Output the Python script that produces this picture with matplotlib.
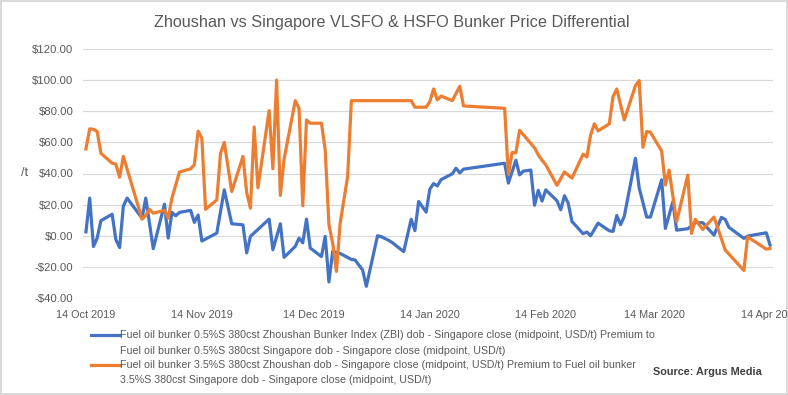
import matplotlib
matplotlib.use("Agg")
import matplotlib.pyplot as plt
import matplotlib.dates as mdates
import matplotlib.ticker as mticker
from matplotlib.lines import Line2D
import pandas as pd

# ---------------- data ----------------
blue_dates = [
    "2019-10-14", "2019-10-15", "2019-10-16", "2019-10-17", "2019-10-18", "2019-10-21", "2019-10-22", "2019-10-23", "2019-10-24", "2019-10-25",
    "2019-10-29", "2019-10-30", "2019-11-01", "2019-11-04", "2019-11-05", "2019-11-06", "2019-11-07", "2019-11-08", "2019-11-11", "2019-11-12",
    "2019-11-13", "2019-11-14", "2019-11-18", "2019-11-20", "2019-11-22", "2019-11-25", "2019-11-26", "2019-11-27", "2019-12-02", "2019-12-03",
    "2019-12-05", "2019-12-06", "2019-12-09", "2019-12-10", "2019-12-11", "2019-12-12", "2019-12-13", "2019-12-16", "2019-12-17", "2019-12-18",
    "2019-12-19", "2019-12-21", "2019-12-24", "2019-12-25", "2019-12-27", "2019-12-28", "2019-12-31", "2020-01-01", "2020-01-03", "2020-01-04",
    "2020-01-07", "2020-01-09", "2020-01-10", "2020-01-11", "2020-01-13", "2020-01-14", "2020-01-15", "2020-01-16", "2020-01-17", "2020-01-20",
    "2020-01-21", "2020-01-22", "2020-01-23", "2020-02-03", "2020-02-04", "2020-02-06", "2020-02-07", "2020-02-08", "2020-02-10", "2020-02-11",
    "2020-02-12", "2020-02-13", "2020-02-14", "2020-02-17", "2020-02-18", "2020-02-19", "2020-02-20", "2020-02-21", "2020-02-24", "2020-02-25",
    "2020-02-26", "2020-02-28", "2020-03-02", "2020-03-03", "2020-03-04", "2020-03-05", "2020-03-06", "2020-03-09", "2020-03-10", "2020-03-12",
    "2020-03-13", "2020-03-16", "2020-03-17", "2020-03-19", "2020-03-20", "2020-03-23", "2020-03-25", "2020-03-27", "2020-03-30", "2020-04-01",
    "2020-04-02", "2020-04-03", "2020-04-07", "2020-04-08", "2020-04-13", "2020-04-14"]
blue_values = [
    2.5, 24.2, -6.9, -1.5, 9.7, 13.8, -2.5, -7.6, 19.0, 24.2,
    11.3, 24.2, -8.3, 20.3, -1.5, 15.0, 12.8, 15.0, 16.3, 8.6,
    13.3, -3.4, 1.7, 29.5, 7.7, 7.0, -11.0, -0.4, 10.7, -9.0,
    7.7, -13.9, -6.8, -1.5, -4.5, 10.7, -7.9, -13.4, -0.4, -29.7,
    -10.0, -11.4, -15.2, -15.6, -22.0, -32.5, 0.0, -0.6, -3.0, -4.5,
    -10.2, 10.6, 3.3, 22.0, 15.2, 30.0, 33.5, 32.0, 36.1, 39.8,
    43.4, 40.4, 42.8, 46.6, 33.8, 48.5, 39.1, 41.5, 42.2, 19.6,
    29.2, 22.3, 29.5, 22.5, 16.7, 25.7, 21.0, 9.2, 1.3, 2.4,
    0.0, 8.1, 3.2, 2.8, 13.0, 7.1, 12.4, 49.8, 30.6, 12.0,
    12.0, 35.9, 4.7, 21.9, 3.6, 4.5, 8.4, 8.4, 0.4, 11.8,
    10.5, 5.4, -1.7, -0.2, 1.9, -6.0]

orange_dates = [
    "2019-10-14", "2019-10-15", "2019-10-16", "2019-10-17", "2019-10-18", "2019-10-21", "2019-10-22", "2019-10-23", "2019-10-24", "2019-10-29",
    "2019-10-30", "2019-10-31", "2019-11-01", "2019-11-04", "2019-11-05", "2019-11-06", "2019-11-08", "2019-11-11", "2019-11-12", "2019-11-13",
    "2019-11-14", "2019-11-15", "2019-11-18", "2019-11-19", "2019-11-20", "2019-11-22", "2019-11-25", "2019-11-26", "2019-11-27", "2019-11-28",
    "2019-11-29", "2019-12-02", "2019-12-03", "2019-12-04", "2019-12-05", "2019-12-06", "2019-12-09", "2019-12-10", "2019-12-11", "2019-12-12",
    "2019-12-13", "2019-12-16", "2019-12-17", "2019-12-18", "2019-12-19", "2019-12-20", "2019-12-21", "2019-12-23", "2019-12-24", "2020-01-09",
    "2020-01-10", "2020-01-13", "2020-01-14", "2020-01-15", "2020-01-16", "2020-01-17", "2020-01-20", "2020-01-22", "2020-01-23", "2020-02-03",
    "2020-02-04", "2020-02-05", "2020-02-06", "2020-02-07", "2020-02-11", "2020-02-12", "2020-02-13", "2020-02-14", "2020-02-17", "2020-02-19",
    "2020-02-21", "2020-02-24", "2020-02-25", "2020-02-26", "2020-02-27", "2020-02-28", "2020-03-02", "2020-03-03", "2020-03-04", "2020-03-06",
    "2020-03-09", "2020-03-10", "2020-03-11", "2020-03-12", "2020-03-13", "2020-03-16", "2020-03-17", "2020-03-18", "2020-03-20", "2020-03-23",
    "2020-03-24", "2020-03-25", "2020-03-27", "2020-03-30", "2020-04-01", "2020-04-02", "2020-04-07", "2020-04-08", "2020-04-13", "2020-04-14"]
orange_values = [
    55.8, 68.7, 68.4, 67.0, 53.0, 46.6, 46.0, 37.6, 51.0, 10.7,
    13.0, 17.0, 14.5, 16.3, 11.3, 24.2, 40.9, 43.0, 45.6, 67.2,
    62.7, 17.0, 23.0, 53.0, 60.0, 28.4, 51.0, 27.8, 17.7, 69.9,
    30.8, 80.4, 43.0, 100.0, 25.9, 49.2, 86.8, 82.0, 19.3, 74.4,
    72.3, 72.3, 55.2, 7.0, -4.7, -22.9, 8.1, 38.0, 86.8, 86.8,
    82.6, 82.6, 86.2, 94.3, 87.3, 89.8, 86.8, 96.0, 83.4, 81.9,
    39.5, 53.5, 53.2, 67.8, 56.5, 52.0, 48.5, 45.6, 32.4, 41.0,
    37.0, 52.4, 50.6, 64.8, 71.9, 67.4, 71.9, 89.5, 94.3, 74.4,
    96.5, 99.7, 56.9, 67.0, 66.5, 54.5, 32.6, 42.2, 9.0, 39.0,
    1.5, 10.6, 4.0, 12.0, -2.0, -9.1, -22.3, -0.7, -8.6, -8.2]

blue_label = ["Fuel oil bunker 0.5%S 380cst Zhoushan Bunker Index (ZBI) dob - Singapore close (midpoint, USD/t) Premium to",
              "Fuel oil bunker 0.5%S 380cst Singapore dob - Singapore close (midpoint, USD/t)"]
orange_label = ["Fuel oil bunker 3.5%S 380cst Zhoushan dob - Singapore close (midpoint, USD/t) Premium to Fuel oil bunker",
                "3.5%S 380cst Singapore dob - Singapore close (midpoint, USD/t)"]
title_text = "Zhoushan vs Singapore VLSFO & HSFO Bunker Price Differential"
tick_dates = ["2019-10-14", "2019-11-14", "2019-12-14", "2020-01-14", "2020-02-14", "2020-03-14", "2020-04-14"]
y_ticks = [-40, -20, 0, 20, 40, 60, 80, 100, 120]

# ---------------- style ----------------
plt.rcParams["font.family"] = ["Liberation Sans", "DejaVu Sans"]

GREY = "#595959"
BLUE = "#4472C4"
ORANGE = "#ED7D31"
W, H = 788, 395

fig = plt.figure(figsize=(7.88, 3.95), dpi=100)
fig.patch.set_facecolor("white")
fig.patch.set_edgecolor("#d9d9d9")
fig.patch.set_linewidth(1.5)

ax = fig.add_axes([83 / W, 1 - 298 / H, (773 - 83) / W, (298 - 49) / H])

bd = pd.to_datetime(blue_dates)
od = pd.to_datetime(orange_dates)
ax.plot(bd, blue_values, color=BLUE, lw=2.3, label="\n".join(blue_label),
        solid_joinstyle="round", zorder=3)
ax.plot(od, orange_values, color=ORANGE, lw=2.3, label="\n".join(orange_label),
        solid_joinstyle="round", zorder=3)

ax.set_ylim(-40, 120)
ax.set_yticks(y_ticks)
ax.yaxis.set_major_formatter(mticker.FuncFormatter(
    lambda v, p: ("-$%.2f" % abs(v)) if v < 0 else ("$%.2f" % v)))
ax.set_xlim(pd.Timestamp("2019-10-13 05:00"), pd.Timestamp("2020-04-14 19:00"))
ax.set_xticks(pd.to_datetime(tick_dates))
ax.xaxis.set_major_formatter(mdates.DateFormatter("%d %b %Y"))

ax.grid(axis="y", color="#d9d9d9", lw=0.9, zorder=0)
ax.grid(axis="x", visible=False)
for s in ax.spines.values():
    s.set_visible(False)
ax.tick_params(axis="y", length=0, colors=GREY, labelsize=8.2, pad=7)
ax.tick_params(axis="x", length=0, colors=GREY, labelsize=7.8, pad=9)
ax.set_ylabel("/t", rotation=0, color=GREY, fontsize=9, va="center")
ax.yaxis.set_label_coords(-0.085, 0.5)

fig.text(392 / W, 1 - 22 / H, title_text, ha="center", va="center",
         fontsize=11.7, color=GREY)

# legend (drawn below the plot, Excel style: swatch beside first line)
entries = [(BLUE, blue_label, 335), (ORANGE, orange_label, 364.5)]
for color, lines, y0 in entries:
    fig.add_artist(Line2D([91 / W, 119 / W], [1 - y0 / H, 1 - y0 / H],
                          color=color, lw=2.3, transform=fig.transFigure))
    for i, line in enumerate(lines):
        fig.text(120 / W, 1 - (y0 + i * 15.7) / H, line, ha="left", va="center",
                 fontsize=7.7, color=GREY)

fig.text(762 / W, 1 - 372 / H, "Source: Argus Media", ha="right", va="center",
         fontsize=7.8, fontweight="bold", color="#404040")

fig.savefig("out.png", dpi=100)
